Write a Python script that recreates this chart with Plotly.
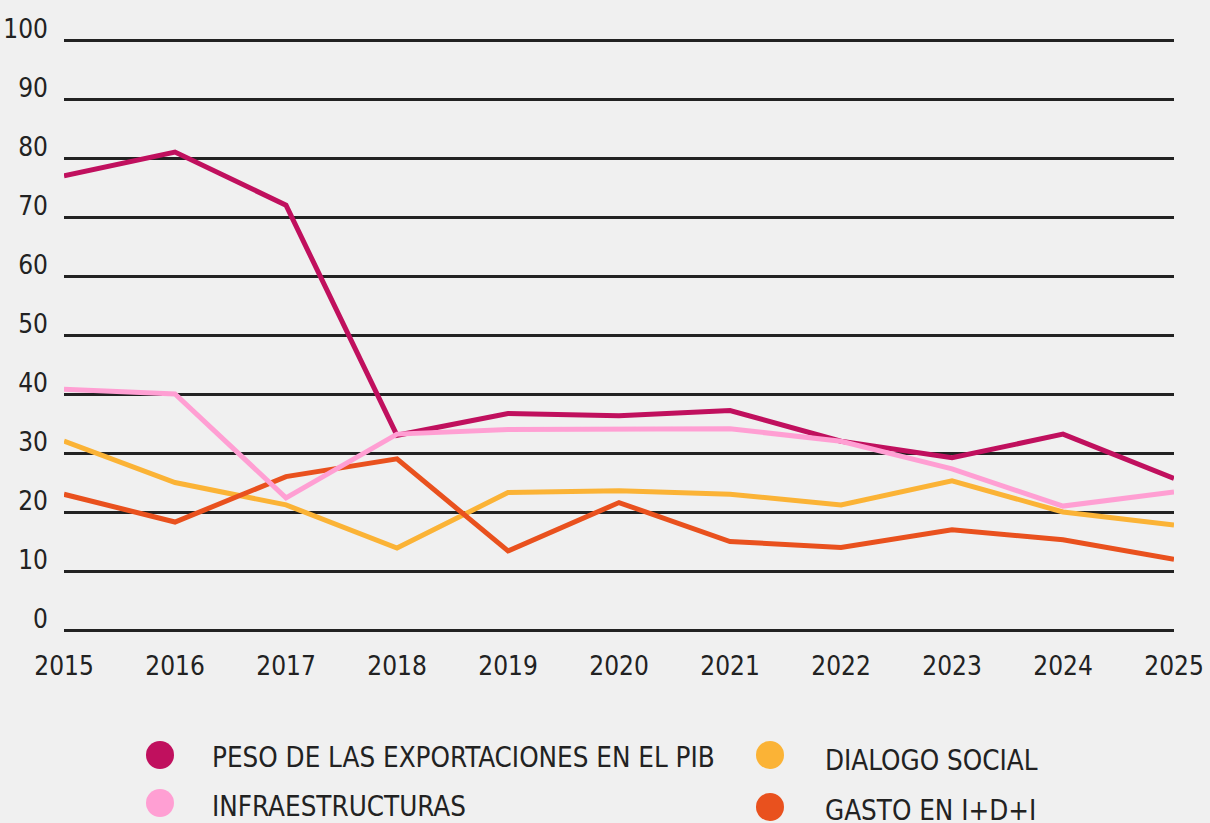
import plotly.graph_objects as go

years = [2015, 2016, 2017, 2018, 2019, 2020, 2021, 2022, 2023, 2024, 2025]

peso_exportaciones = [77, 81, 72, 33, 36.7, 36.3, 37.2, 32, 29.2, 33.2, 25.7]
infraestructuras = [40.8, 40, 22.4, 33.2, 34, 34, 34.1, 32, 27.3, 21, 23.4]
dialogo_social = [32, 25, 21.2, 13.9, 23.3, 23.6, 23, 21.2, 25.3, 20, 17.8]
gasto_idi = [23, 18.3, 26, 29, 13.4, 21.6, 15, 14, 17, 15.3, 12]

series_names = [
    "PESO DE LAS EXPORTACIONES EN EL PIB",
    "INFRAESTRUCTURAS",
    "DIALOGO SOCIAL",
    "GASTO EN I+D+I",
]
series_values = [peso_exportaciones, infraestructuras, dialogo_social, gasto_idi]
colors = ["#C0105E", "#FF9FD3", "#FBB336", "#E9511E"]

y_ticks = [0, 10, 20, 30, 40, 50, 60, 70, 80, 90, 100]
x_ticks = years

FONT = "DejaVu Sans Condensed, Liberation Sans Narrow, Roboto, sans-serif"
W, H = 1210, 823
L, R, T, B = 64, 36, 38, 191
PW, PH = W - L - R, H - T - B
PAD = 2 / 5.9

fig = go.Figure()
# draw order: dialogo, gasto, peso, infra
for idx in [2, 3, 0, 1]:
    fig.add_trace(go.Scatter(
        x=years, y=series_values[idx], mode="lines", name=series_names[idx],
        line=dict(color=colors[idx], width=5),
        showlegend=False, hoverinfo="x+y+name",
    ))

def px2paper(px, py):
    return (px - L) / PW, (H - B - py) / PH

# manual legend: (circle x, circle y, text x, text y)
legend_pos = [
    (160, 755, 210, 757),
    (160, 803, 210, 806),
    (770, 755, 823, 760),
    (770, 807, 823, 810),
]
shapes = []
annotations = []
for name, col, (cx, cy, tx, ty) in zip(series_names, colors, legend_pos):
    xa, ya = px2paper(cx, cy)
    shapes.append(dict(
        type="circle", xref="paper", yref="paper", xsizemode="pixel", ysizemode="pixel",
        xanchor=xa, yanchor=ya, x0=-14, x1=14, y0=-14, y1=14,
        fillcolor=col, line=dict(width=0),
    ))
    ax_, ay_ = px2paper(tx, ty)
    annotations.append(dict(
        x=ax_, y=ay_, xref="paper", yref="paper", text=name, showarrow=False,
        xanchor="left", yanchor="middle",
        font=dict(family=FONT, size=27.5, color="#222222"),
    ))

fig.update_layout(
    width=W, height=H,
    margin=dict(l=L, r=R, t=T, b=B, autoexpand=False),
    paper_bgcolor="#F0F0F0", plot_bgcolor="#F0F0F0",
    showlegend=False,
    shapes=shapes, annotations=annotations,
    font=dict(family=FONT, size=27, color="#222222"),
)
fig.update_xaxes(
    range=[2015, 2025], tickvals=x_ticks, ticktext=[str(v) for v in x_ticks],
    showgrid=False, zeroline=False, showline=False, automargin=False,
    ticks="", ticklabelstandoff=16,
    tickfont=dict(family=FONT, size=26, color="#222222"),
)
fig.update_yaxes(
    range=[-PAD, 100 + PAD], tickvals=y_ticks, ticktext=[str(v) for v in y_ticks],
    showgrid=True, gridcolor="#222222", gridwidth=2.5, automargin=False,
    zeroline=False, showline=False, ticks="",
    ticklabelshift=-11, ticklabelstandoff=15,
    tickfont=dict(family=FONT, size=26, color="#222222"),
)

fig.write_html(
    "out.html",
    config={"displayModeBar": False},
    post_script="document.body.style.margin='0';document.body.style.overflow='hidden';",
)
